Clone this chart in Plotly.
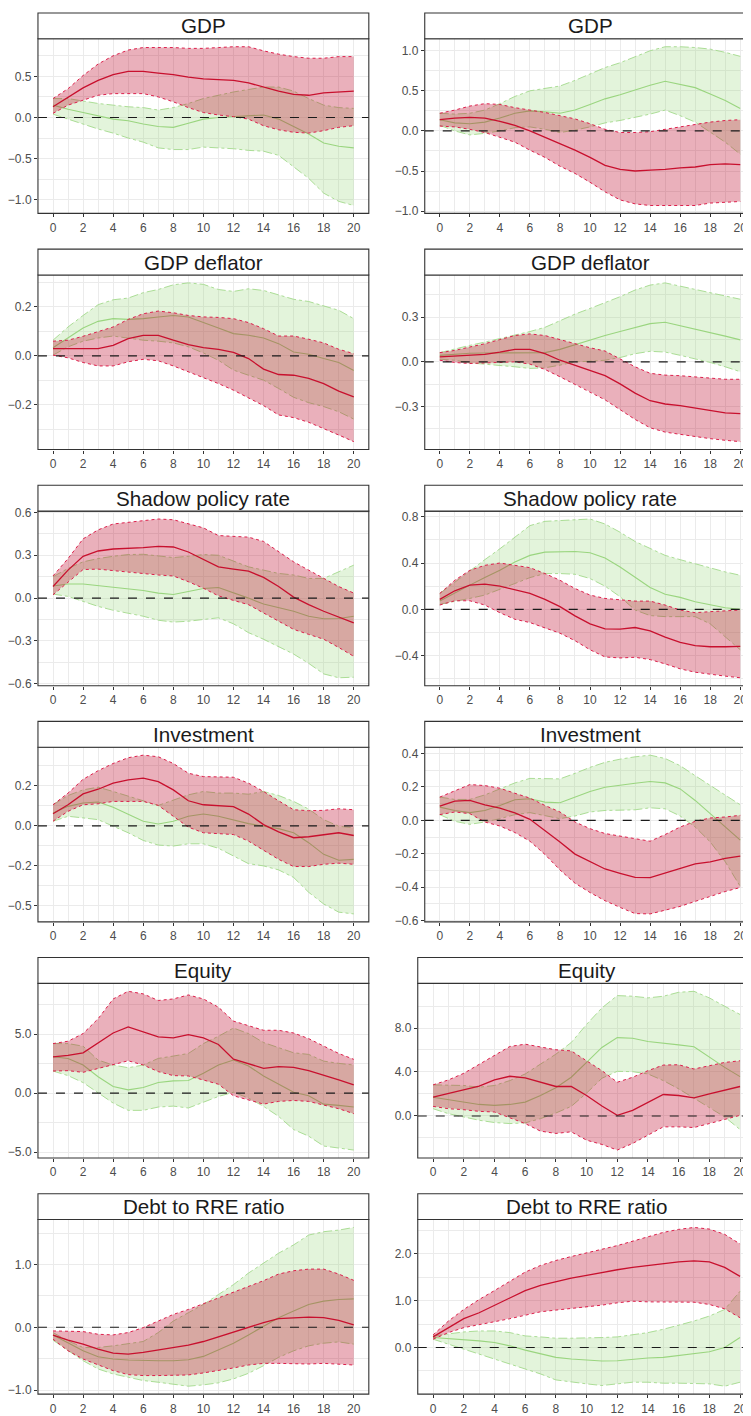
import plotly.graph_objects as go

# ---------------- data ----------------
horizon = list(range(21))
x_major = list(range(0, 21, 2))
x_minor = list(range(1, 21, 2))

titles = ["GDP", "GDP", "GDP deflator", "GDP deflator", "Shadow policy rate", "Shadow policy rate",
          "Investment", "Investment", "Equity", "Equity", "Debt to RRE ratio", "Debt to RRE ratio"]

# Panel 1: GDP (left)
gdp_l_red_med = [0.13,0.25,0.36,0.45,0.52,0.56,0.56,0.54,0.52,0.49,0.47,0.46,0.45,0.42,0.37,0.32,0.28,0.27,0.30,0.31,0.32]
gdp_l_red_up = [0.23,0.35,0.51,0.65,0.75,0.82,0.85,0.85,0.85,0.84,0.84,0.85,0.86,0.86,0.81,0.77,0.74,0.72,0.72,0.74,0.74]
gdp_l_red_lo = [0.05,0.15,0.21,0.27,0.29,0.29,0.29,0.25,0.19,0.12,0.06,0.03,0.01,-0.02,-0.10,-0.15,-0.18,-0.19,-0.16,-0.12,-0.10]
gdp_l_grn_med = [0.15,0.10,0.06,0.02,-0.02,-0.04,-0.08,-0.11,-0.12,-0.07,-0.02,0.00,0.01,0.02,0.03,-0.02,-0.11,-0.20,-0.31,-0.35,-0.37]
gdp_l_grn_up = [0.23,0.23,0.20,0.17,0.15,0.13,0.12,0.09,0.12,0.17,0.23,0.27,0.31,0.34,0.37,0.37,0.32,0.23,0.15,0.12,0.11]
gdp_l_grn_lo = [0.04,-0.02,-0.08,-0.14,-0.19,-0.25,-0.30,-0.37,-0.39,-0.39,-0.36,-0.37,-0.38,-0.40,-0.41,-0.46,-0.60,-0.74,-0.92,-1.02,-1.07]

# Panel 2: GDP (right)
gdp_r_red_med = [0.14,0.16,0.17,0.16,0.12,0.07,0.00,-0.08,-0.15,-0.24,-0.33,-0.43,-0.48,-0.50,-0.49,-0.48,-0.46,-0.45,-0.42,-0.41,-0.42]
gdp_r_red_up = [0.22,0.26,0.31,0.34,0.33,0.29,0.26,0.23,0.19,0.15,0.09,0.02,-0.02,-0.02,-0.01,0.02,0.05,0.08,0.11,0.13,0.14]
gdp_r_red_lo = [0.06,0.05,0.02,-0.02,-0.08,-0.14,-0.24,-0.33,-0.44,-0.53,-0.64,-0.76,-0.86,-0.91,-0.93,-0.93,-0.93,-0.93,-0.90,-0.89,-0.88]
gdp_r_grn_med = [0.14,0.10,0.09,0.11,0.16,0.22,0.25,0.24,0.22,0.26,0.33,0.40,0.45,0.51,0.57,0.62,0.58,0.54,0.46,0.38,0.28]
gdp_r_grn_up = [0.22,0.21,0.22,0.26,0.34,0.43,0.50,0.53,0.56,0.63,0.71,0.79,0.85,0.92,1.00,1.05,1.05,1.04,1.02,0.98,0.93]
gdp_r_grn_lo = [0.07,0.00,-0.05,-0.03,0.00,0.04,0.05,0.02,-0.02,0.01,0.05,0.10,0.13,0.17,0.21,0.26,0.19,0.11,-0.02,-0.14,-0.29]

# Panel 3: GDP deflator (left)
defl_l_red_med = [0.030,0.030,0.027,0.030,0.043,0.070,0.084,0.084,0.064,0.046,0.034,0.027,0.014,-0.011,-0.054,-0.076,-0.079,-0.092,-0.113,-0.144,-0.167]
defl_l_red_up = [0.060,0.064,0.080,0.098,0.118,0.149,0.172,0.183,0.176,0.165,0.159,0.157,0.152,0.136,0.111,0.081,0.081,0.068,0.053,0.027,0.009]
defl_l_red_lo = [0.003,-0.008,-0.027,-0.041,-0.041,-0.024,-0.014,-0.020,-0.041,-0.065,-0.088,-0.113,-0.140,-0.171,-0.203,-0.241,-0.252,-0.271,-0.296,-0.323,-0.350]
defl_l_grn_med = [0.033,0.075,0.114,0.141,0.152,0.149,0.152,0.159,0.165,0.159,0.138,0.114,0.091,0.084,0.073,0.050,0.016,0.007,-0.011,-0.027,-0.060]
defl_l_grn_up = [0.064,0.118,0.165,0.209,0.229,0.236,0.258,0.271,0.290,0.298,0.292,0.271,0.263,0.274,0.267,0.249,0.231,0.222,0.203,0.186,0.152]
defl_l_grn_lo = [0.003,0.037,0.060,0.073,0.081,0.073,0.064,0.060,0.053,0.037,0.012,-0.018,-0.058,-0.079,-0.099,-0.133,-0.169,-0.191,-0.207,-0.228,-0.258]

# Panel 4: GDP deflator (right)
defl_r_red_med = [0.033,0.040,0.044,0.051,0.066,0.084,0.084,0.055,0.011,-0.022,-0.055,-0.093,-0.148,-0.210,-0.261,-0.283,-0.294,-0.310,-0.325,-0.343,-0.348]
defl_r_red_up = [0.062,0.077,0.100,0.122,0.150,0.177,0.188,0.177,0.150,0.122,0.095,0.073,0.022,-0.033,-0.077,-0.089,-0.093,-0.100,-0.111,-0.117,-0.117]
defl_r_red_lo = [0.011,-0.004,-0.011,-0.007,-0.004,0.000,-0.015,-0.051,-0.100,-0.150,-0.200,-0.255,-0.321,-0.387,-0.443,-0.472,-0.487,-0.503,-0.516,-0.527,-0.536]
defl_r_grn_med = [0.044,0.053,0.058,0.060,0.060,0.058,0.058,0.062,0.084,0.115,0.148,0.177,0.204,0.232,0.257,0.266,0.244,0.221,0.199,0.173,0.148]
defl_r_grn_up = [0.062,0.089,0.111,0.133,0.155,0.177,0.204,0.232,0.277,0.321,0.359,0.398,0.438,0.483,0.516,0.531,0.509,0.487,0.465,0.443,0.421]
defl_r_grn_lo = [0.018,0.011,-0.007,-0.015,-0.022,-0.033,-0.044,-0.040,-0.022,0.000,0.004,0.011,0.029,0.055,0.071,0.066,0.044,0.022,-0.004,-0.033,-0.066]

# Panel 5: Shadow policy rate (left)
rate_l_red_med = [0.081,0.196,0.293,0.330,0.344,0.346,0.353,0.362,0.358,0.323,0.270,0.219,0.203,0.189,0.145,0.081,0.007,-0.046,-0.092,-0.132,-0.173]
rate_l_red_up = [0.155,0.277,0.415,0.478,0.519,0.531,0.542,0.554,0.549,0.519,0.492,0.438,0.434,0.427,0.397,0.323,0.254,0.196,0.138,0.081,0.035]
rate_l_red_lo = [0.023,0.115,0.200,0.203,0.192,0.185,0.173,0.162,0.155,0.115,0.069,0.016,-0.016,-0.046,-0.104,-0.162,-0.219,-0.254,-0.288,-0.346,-0.408]
rate_l_grn_med = [0.085,0.099,0.099,0.088,0.078,0.069,0.053,0.035,0.025,0.046,0.067,0.074,0.039,0.000,-0.042,-0.065,-0.092,-0.127,-0.145,-0.143,-0.127]
rate_l_grn_up = [0.150,0.208,0.254,0.277,0.293,0.305,0.307,0.293,0.284,0.293,0.305,0.300,0.261,0.219,0.196,0.173,0.162,0.138,0.138,0.185,0.231]
rate_l_grn_lo = [0.028,0.012,-0.023,-0.058,-0.085,-0.104,-0.127,-0.155,-0.168,-0.162,-0.150,-0.138,-0.180,-0.242,-0.288,-0.342,-0.392,-0.457,-0.531,-0.558,-0.554]

# Panel 6: Shadow policy rate (right)
rate_r_red_med = [0.086,0.160,0.209,0.217,0.200,0.166,0.137,0.086,0.023,-0.057,-0.126,-0.169,-0.171,-0.157,-0.186,-0.240,-0.286,-0.314,-0.323,-0.323,-0.320]
rate_r_red_up = [0.137,0.251,0.337,0.380,0.400,0.380,0.360,0.309,0.251,0.180,0.123,0.094,0.080,0.071,0.071,0.037,-0.006,-0.029,-0.020,-0.011,-0.006]
rate_r_red_lo = [0.037,0.074,0.074,0.037,-0.029,-0.086,-0.114,-0.163,-0.206,-0.271,-0.349,-0.411,-0.420,-0.414,-0.434,-0.471,-0.514,-0.543,-0.563,-0.577,-0.591]
rate_r_grn_med = [0.071,0.143,0.209,0.274,0.337,0.409,0.466,0.494,0.500,0.500,0.489,0.443,0.366,0.280,0.189,0.131,0.103,0.066,0.043,0.014,0.000]
rate_r_grn_up = [0.137,0.237,0.337,0.429,0.523,0.623,0.723,0.760,0.766,0.774,0.780,0.737,0.666,0.586,0.523,0.466,0.429,0.394,0.357,0.323,0.294]
rate_r_grn_lo = [0.043,0.066,0.094,0.123,0.171,0.223,0.274,0.309,0.309,0.303,0.266,0.200,0.109,-0.006,-0.054,-0.063,-0.063,-0.063,-0.126,-0.234,-0.349]

# Panel 7: Investment (left)
inv_l_red_med = [0.076,0.132,0.200,0.229,0.267,0.287,0.298,0.277,0.225,0.157,0.132,0.126,0.120,0.074,0.008,-0.037,-0.074,-0.068,-0.054,-0.043,-0.060]
inv_l_red_up = [0.132,0.205,0.291,0.345,0.390,0.426,0.442,0.432,0.390,0.329,0.308,0.308,0.304,0.267,0.215,0.157,0.101,0.095,0.097,0.107,0.101]
inv_l_red_lo = [0.029,0.091,0.132,0.138,0.153,0.153,0.153,0.128,0.060,-0.008,-0.043,-0.050,-0.054,-0.095,-0.153,-0.209,-0.254,-0.254,-0.240,-0.233,-0.240]
inv_l_grn_med = [0.081,0.122,0.143,0.149,0.116,0.074,0.029,0.012,0.029,0.060,0.074,0.060,0.039,0.014,-0.002,-0.017,-0.043,-0.105,-0.178,-0.215,-0.209]
inv_l_grn_up = [0.132,0.190,0.225,0.242,0.215,0.184,0.157,0.128,0.163,0.194,0.215,0.205,0.205,0.198,0.215,0.190,0.153,0.105,0.039,-0.002,-0.012]
inv_l_grn_lo = [0.029,0.060,0.050,0.039,-0.002,-0.043,-0.091,-0.120,-0.126,-0.112,-0.112,-0.140,-0.188,-0.236,-0.250,-0.275,-0.322,-0.415,-0.488,-0.539,-0.550]

# Panel 8: Investment (right)
inv_r_red_med = [0.085,0.115,0.119,0.093,0.073,0.044,0.006,-0.059,-0.129,-0.202,-0.248,-0.291,-0.317,-0.341,-0.343,-0.317,-0.291,-0.261,-0.248,-0.228,-0.214]
inv_r_red_up = [0.139,0.178,0.214,0.208,0.192,0.162,0.133,0.089,0.050,-0.010,-0.050,-0.079,-0.093,-0.109,-0.125,-0.085,-0.040,-0.006,0.014,0.020,0.030]
inv_r_red_lo = [0.034,0.050,0.040,-0.010,-0.034,-0.073,-0.125,-0.204,-0.297,-0.376,-0.432,-0.481,-0.521,-0.558,-0.560,-0.539,-0.515,-0.485,-0.455,-0.426,-0.402]
inv_r_grn_med = [0.079,0.059,0.046,0.059,0.089,0.123,0.129,0.109,0.105,0.139,0.172,0.198,0.212,0.222,0.232,0.224,0.188,0.119,0.040,-0.040,-0.119]
inv_r_grn_up = [0.139,0.125,0.125,0.152,0.188,0.224,0.251,0.251,0.248,0.281,0.317,0.347,0.366,0.380,0.390,0.370,0.327,0.267,0.208,0.152,0.093]
inv_r_grn_lo = [0.034,-0.006,-0.024,-0.010,0.010,0.034,0.046,0.030,0.010,0.026,0.050,0.059,0.059,0.063,0.075,0.069,0.026,-0.040,-0.129,-0.248,-0.396]

# Panel 9: Equity (left)
eq_l_red_med = [3.09,3.20,3.43,4.30,5.11,5.62,5.20,4.78,4.69,4.97,4.69,4.13,2.89,2.47,2.11,2.25,2.19,1.91,1.54,1.12,0.70]
eq_l_red_up = [4.21,4.41,5.06,6.32,8.00,8.65,8.43,7.87,8.00,8.34,8.00,7.30,6.12,5.76,5.34,5.34,5.11,4.63,4.02,3.37,2.87]
eq_l_red_lo = [1.88,1.91,1.77,2.11,2.39,2.75,2.39,1.83,1.49,1.46,1.12,0.76,-0.22,-0.56,-0.93,-0.70,-0.62,-0.70,-0.98,-1.32,-1.74]
eq_l_grn_med = [3.09,2.95,2.39,1.40,0.56,0.28,0.48,0.90,1.04,1.07,1.69,2.39,2.81,2.30,1.46,0.76,0.08,-0.22,-0.93,-1.04,-1.18]
eq_l_grn_up = [4.21,4.21,3.99,2.81,2.39,2.16,2.39,2.95,3.15,3.37,4.21,4.83,5.53,5.06,4.30,3.85,3.43,3.29,2.72,2.53,2.39]
eq_l_grn_lo = [1.88,1.49,0.90,0.00,-0.84,-1.46,-1.46,-1.18,-1.10,-1.26,-0.79,-0.28,0.08,-0.42,-1.12,-1.97,-3.09,-3.65,-4.49,-4.63,-4.83]

# Panel 10: Equity (right)
eq_r_red_med = [1.71,2.02,2.38,2.71,3.28,3.61,3.46,3.07,2.68,2.68,1.86,0.90,0.06,0.51,1.26,1.95,1.86,1.65,2.02,2.38,2.68]
eq_r_red_up = [2.83,3.28,3.88,4.72,5.56,6.32,6.53,6.29,6.02,5.92,5.02,4.12,3.07,3.52,4.12,4.63,4.66,4.27,4.57,4.87,5.02]
eq_r_red_lo = [0.87,0.66,0.57,0.42,0.36,-0.15,-0.69,-1.38,-1.59,-1.44,-2.20,-2.59,-3.10,-2.50,-1.74,-0.99,-0.99,-1.05,-0.69,-0.30,0.06]
eq_r_grn_med = [1.71,1.47,1.26,1.05,0.96,1.05,1.26,1.86,2.56,3.52,4.87,6.23,7.13,7.07,6.77,6.65,6.47,6.29,5.32,4.42,3.58]
eq_r_grn_up = [2.83,2.83,2.77,2.62,2.77,3.22,3.82,4.72,5.62,6.68,8.33,9.83,10.95,10.89,10.74,10.89,11.25,11.34,10.74,9.98,9.23]
eq_r_grn_lo = [0.66,0.21,-0.09,-0.39,-0.60,-0.69,-0.63,-0.24,0.27,0.87,2.08,3.43,4.06,4.03,3.82,3.22,2.47,1.62,0.81,-0.09,-1.23]

# Panel 11: Debt to RRE ratio (left)
debt_l_red_med = [-0.126,-0.205,-0.268,-0.347,-0.410,-0.426,-0.400,-0.358,-0.321,-0.284,-0.226,-0.153,-0.074,0.005,0.074,0.137,0.153,0.163,0.153,0.111,0.037]
debt_l_red_up = [-0.058,-0.058,-0.068,-0.111,-0.121,-0.084,-0.005,0.100,0.205,0.284,0.374,0.468,0.558,0.653,0.742,0.847,0.900,0.926,0.926,0.847,0.747]
debt_l_red_lo = [-0.189,-0.374,-0.505,-0.600,-0.689,-0.753,-0.768,-0.768,-0.768,-0.758,-0.726,-0.689,-0.647,-0.600,-0.574,-0.574,-0.584,-0.584,-0.574,-0.584,-0.600]
debt_l_grn_med = [-0.121,-0.242,-0.374,-0.468,-0.505,-0.521,-0.532,-0.532,-0.532,-0.516,-0.463,-0.363,-0.253,-0.121,0.011,0.153,0.258,0.363,0.416,0.442,0.453]
debt_l_grn_up = [-0.084,-0.216,-0.321,-0.321,-0.295,-0.258,-0.226,-0.084,0.100,0.232,0.363,0.521,0.679,0.863,1.021,1.179,1.311,1.468,1.521,1.547,1.589]
debt_l_grn_lo = [-0.205,-0.374,-0.532,-0.663,-0.742,-0.795,-0.847,-0.874,-0.911,-0.937,-0.916,-0.884,-0.821,-0.732,-0.611,-0.479,-0.374,-0.295,-0.253,-0.232,-0.268]

# Panel 12: Debt to RRE ratio (right)
debt_r_red_med = [0.226,0.424,0.615,0.742,0.905,1.060,1.216,1.329,1.413,1.484,1.541,1.604,1.661,1.710,1.753,1.795,1.830,1.852,1.830,1.710,1.519]
debt_r_red_up = [0.269,0.565,0.813,1.025,1.216,1.413,1.611,1.753,1.859,1.943,2.014,2.099,2.177,2.276,2.367,2.459,2.523,2.565,2.530,2.417,2.212]
debt_r_red_lo = [0.177,0.318,0.424,0.495,0.551,0.615,0.693,0.763,0.799,0.834,0.862,0.905,0.954,0.989,0.975,0.975,0.975,0.968,0.919,0.827,0.636]
debt_r_grn_med = [0.212,0.191,0.177,0.141,0.106,0.035,-0.057,-0.141,-0.212,-0.247,-0.269,-0.290,-0.283,-0.247,-0.226,-0.212,-0.177,-0.127,-0.092,0.000,0.212]
debt_r_grn_up = [0.247,0.297,0.332,0.353,0.353,0.318,0.247,0.226,0.198,0.198,0.198,0.212,0.226,0.269,0.318,0.389,0.473,0.565,0.671,0.813,1.201]
debt_r_grn_lo = [0.177,0.071,-0.035,-0.141,-0.247,-0.353,-0.459,-0.565,-0.693,-0.742,-0.777,-0.813,-0.777,-0.742,-0.742,-0.763,-0.763,-0.763,-0.777,-0.827,-0.742]

# y-axis breaks and their labels, per panel
y_breaks = [
    [-1.0, -0.5, 0.0, 0.5], [-1.0, -0.5, 0.0, 0.5, 1.0],
    [-0.2, 0.0, 0.2], [-0.3, 0.0, 0.3],
    [-0.6, -0.3, 0.0, 0.3, 0.6], [-0.4, 0.0, 0.4, 0.8],
    [-0.5, -0.25, 0.0, 0.25], [-0.6, -0.4, -0.2, 0.0, 0.2, 0.4],
    [-5.0, 0.0, 5.0], [0.0, 4.0, 8.0],
    [-1.0, 0.0, 1.0], [0.0, 1.0, 2.0],
]
y_labels = [
    ["−1.0", "−0.5", "0.0", "0.5"], ["−1.0", "−0.5", "0.0", "0.5", "1.0"],
    ["−0.2", "0.0", "0.2"], ["−0.3", "0.0", "0.3"],
    ["−0.6", "−0.3", "0.0", "0.3", "0.6"], ["−0.4", "0.0", "0.4", "0.8"],
    ["−0.5", "−0.2", "0.0", "0.2"], ["−0.6", "−0.4", "−0.2", "0.0", "0.2", "0.4"],
    ["−5.0", "0.0", "5.0"], ["0.0", "4.0", "8.0"],
    ["−1.0", "0.0", "1.0"], ["0.0", "1.0", "2.0"],
]

series = [
    (gdp_l_red_lo, gdp_l_red_med, gdp_l_red_up, gdp_l_grn_lo, gdp_l_grn_med, gdp_l_grn_up),
    (gdp_r_red_lo, gdp_r_red_med, gdp_r_red_up, gdp_r_grn_lo, gdp_r_grn_med, gdp_r_grn_up),
    (defl_l_red_lo, defl_l_red_med, defl_l_red_up, defl_l_grn_lo, defl_l_grn_med, defl_l_grn_up),
    (defl_r_red_lo, defl_r_red_med, defl_r_red_up, defl_r_grn_lo, defl_r_grn_med, defl_r_grn_up),
    (rate_l_red_lo, rate_l_red_med, rate_l_red_up, rate_l_grn_lo, rate_l_grn_med, rate_l_grn_up),
    (rate_r_red_lo, rate_r_red_med, rate_r_red_up, rate_r_grn_lo, rate_r_grn_med, rate_r_grn_up),
    (inv_l_red_lo, inv_l_red_med, inv_l_red_up, inv_l_grn_lo, inv_l_grn_med, inv_l_grn_up),
    (inv_r_red_lo, inv_r_red_med, inv_r_red_up, inv_r_grn_lo, inv_r_grn_med, inv_r_grn_up),
    (eq_l_red_lo, eq_l_red_med, eq_l_red_up, eq_l_grn_lo, eq_l_grn_med, eq_l_grn_up),
    (eq_r_red_lo, eq_r_red_med, eq_r_red_up, eq_r_grn_lo, eq_r_grn_med, eq_r_grn_up),
    (debt_l_red_lo, debt_l_red_med, debt_l_red_up, debt_l_grn_lo, debt_l_grn_med, debt_l_grn_up),
    (debt_r_red_lo, debt_r_red_med, debt_r_red_up, debt_r_grn_lo, debt_r_grn_med, debt_r_grn_up),
]

# ---------------- styling / layout ----------------
PAGE_W, PAGE_H = 751, 1416
BODY = 8                       # default page margin around the plot div
W, H = PAGE_W - BODY, PAGE_H - BODY
FONT = "Liberation Sans, Arial, Helvetica, sans-serif"
RED_FILL = "rgba(190,10,45,0.32)"
RED_LINE = "#C8102E"
RED_EDGE = "#DC1F4B"
GRN_FILL = "rgba(144,210,110,0.25)"
GRN_LINE = "#9AD57F"
GRN_EDGE = "#A3D98B"
BORDER = "#333333"
GRID = "#EBEBEB"


def panel_px(k):
    """Panel geometry in page pixels, converted to figure pixels."""
    row, col = divmod(k, 2)
    strip_top = 8 + 238 * row
    plot_top = 34 + 238 * row
    plot_bot = 210 + 238 * row
    if col == 0:
        left, right = 37.0, 368.3
    elif row < 4:
        left, right = 424.3, 755.3
    else:
        left, right = 417.3, 755.4
    return (strip_top - BODY, plot_top - BODY, plot_bot - BODY, left - BODY, right - BODY)


fig = go.Figure()
layout = dict(width=W, height=H, margin=dict(l=0, r=0, t=0, b=0),
              paper_bgcolor="white", plot_bgcolor="white", showlegend=False,
              font=dict(family=FONT), shapes=[], annotations=[])

for k in range(12):
    n = k + 1
    sfx = "" if n == 1 else str(n)
    xr, yr = "x" + sfx, "y" + sfx
    strip_top, plot_top, plot_bot, left, right = panel_px(k)
    red_lo, red_med, red_up, grn_lo, grn_med, grn_up = series[k]

    # ggplot-like 5% expansion
    lo = min(min(red_lo), min(grn_lo))
    hi = max(max(red_up), max(grn_up))
    pad = 0.05 * (hi - lo)
    yrange = [lo - pad, hi + pad]

    scale = (right - left) / 22.0
    vis_right = min(right, W)
    xrange = [-1, -1 + (vis_right - left) / scale]

    brk = y_breaks[k]
    step = brk[1] - brk[0]
    minor = [brk[0] - step / 2 + step * i for i in range(len(brk) + 1)]
    minor = [m for m in minor if yrange[0] <= m <= yrange[1]]

    tickfont = dict(family=FONT, size=12, color="#4D4D4D")
    layout["xaxis" + sfx] = dict(
        domain=[left / W, vis_right / W], range=xrange, anchor=yr,
        tickmode="array", tickvals=x_major, ticktext=[str(v) for v in x_major],
        ticks="outside", ticklen=3, tickwidth=1, tickcolor=BORDER, ticklabeloverflow="allow",
        showgrid=True, gridcolor=GRID, gridwidth=1.1, zeroline=False, showline=False,
        minor=dict(tickmode="array", tickvals=x_minor, showgrid=True, gridcolor=GRID, gridwidth=0.55),
        tickfont=tickfont, fixedrange=True)
    layout["yaxis" + sfx] = dict(
        domain=[1 - plot_bot / H, 1 - plot_top / H], range=yrange, anchor=xr,
        tickmode="array", tickvals=brk, ticktext=y_labels[k],
        ticks="outside", ticklen=3, tickwidth=1, tickcolor=BORDER, ticklabeloverflow="allow",
        showgrid=True, gridcolor=GRID, gridwidth=1.1, zeroline=False, showline=False,
        minor=dict(tickmode="array", tickvals=minor, showgrid=True, gridcolor=GRID, gridwidth=0.55),
        tickfont=tickfont, fixedrange=True)

    # green band
    fig.add_trace(go.Scatter(x=horizon + horizon[::-1], y=grn_up + grn_lo[::-1], fill="toself",
                             fillcolor=GRN_FILL, mode="lines", line=dict(width=0),
                             xaxis=xr, yaxis=yr, hoverinfo="skip"))
    for edge in (grn_up, grn_lo):
        fig.add_trace(go.Scatter(x=horizon, y=edge, mode="lines",
                                 line=dict(color=GRN_EDGE, width=0.9, dash="dashdot"),
                                 xaxis=xr, yaxis=yr, hoverinfo="skip"))
    fig.add_trace(go.Scatter(x=horizon, y=grn_med, mode="lines",
                             line=dict(color=GRN_LINE, width=1.1),
                             xaxis=xr, yaxis=yr, hoverinfo="skip"))
    # red band
    fig.add_trace(go.Scatter(x=horizon + horizon[::-1], y=red_up + red_lo[::-1], fill="toself",
                             fillcolor=RED_FILL, mode="lines", line=dict(width=0),
                             xaxis=xr, yaxis=yr, hoverinfo="skip"))
    for edge in (red_up, red_lo):
        fig.add_trace(go.Scatter(x=horizon, y=edge, mode="lines",
                                 line=dict(color=RED_EDGE, width=1, dash="dot"),
                                 xaxis=xr, yaxis=yr, hoverinfo="skip"))
    fig.add_trace(go.Scatter(x=horizon, y=red_med, mode="lines",
                             line=dict(color=RED_LINE, width=1.3),
                             xaxis=xr, yaxis=yr, hoverinfo="skip"))

    # zero reference line
    layout["shapes"].append(dict(type="line", xref=xr + " domain", yref=yr, x0=0, x1=1, y0=0, y1=0,
                                 line=dict(color="#1A1A1A", width=1.1, dash="dash"), layer="above"))
    # panel border
    layout["shapes"].append(dict(type="rect", xref="paper", yref="paper",
                                 x0=left / W, x1=right / W, y0=1 - plot_bot / H, y1=1 - plot_top / H,
                                 line=dict(color=BORDER, width=1.1), fillcolor="rgba(0,0,0,0)", layer="above"))
    # strip
    layout["shapes"].append(dict(type="rect", xref="paper", yref="paper",
                                 x0=left / W, x1=right / W, y0=1 - plot_top / H, y1=1 - strip_top / H,
                                 line=dict(color=BORDER, width=1.1), fillcolor="white", layer="above"))
    layout["annotations"].append(dict(text=titles[k], xref="paper", yref="paper",
                                      x=(left + right) / 2 / W, y=1 - (strip_top + plot_top) / 2 / H,
                                      xanchor="center", yanchor="middle", showarrow=False,
                                      font=dict(family=FONT, size=20.6, color="#1A1A1A")))

fig.update_layout(**layout)
fig.write_html("out.html", config={"displayModeBar": False})
